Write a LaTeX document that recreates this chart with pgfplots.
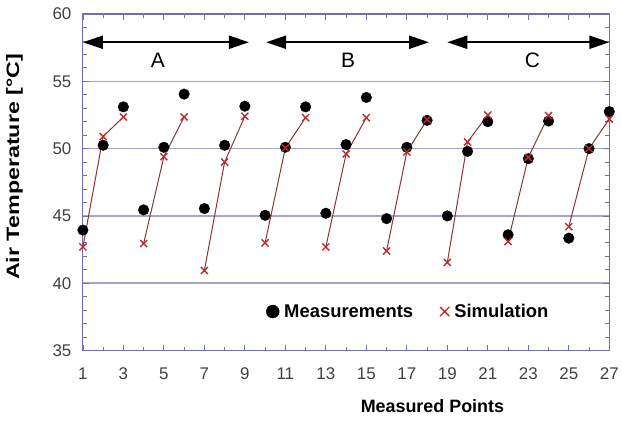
\documentclass[border=0pt]{standalone}
\usepackage{pgfplots}
\pgfplotsset{compat=1.18}
\usepackage{fontspec}
\setmainfont{Liberation Sans}
\usetikzlibrary{arrows.meta}

\definecolor{frameblue}{RGB}{112,112,176}
\definecolor{gridblue}{RGB}{166,166,196}
\definecolor{simline}{RGB}{140,52,52}
\definecolor{simred}{RGB}{185,45,45}

\begin{document}
\begin{tikzpicture}
\begin{axis}[name=ax,
  scale only axis, width=527bp, height=337bp,
  xmin=1, xmax=27, ymin=35, ymax=60,
  xtick={1,3,...,27}, minor x tick num=1,
  ytick={35,40,...,60}, minor y tick num=4,
  ymajorgrids, grid style={draw=gridblue, line width=1.6bp},
  axis line style={draw=frameblue, line width=1.2bp},
  every tick/.style={draw=frameblue, line width=0.8bp},
  major tick length=6bp, minor tick length=4bp,
  tick label style={font=\fontsize{17}{17}\selectfont, text=black!75},
  xticklabel style={yshift=-14bp},
  yticklabel style={xshift=-8bp},
  /pgf/number format/assume math mode=true,
  xlabel={Measured Points},
  ylabel={\scalebox{1.3}[1]{Air Temperature [°C]}},
  label style={font=\bfseries\fontsize{18}{18}\selectfont},
  every axis x label/.append style={at={([yshift=-13bp]ticklabel cs:0.664)}},
  every axis y label/.append style={at={([xshift=-23bp]ticklabel cs:0.546)}},
  clip=false, unbounded coords=jump,
  legend columns=2,
  legend style={draw=none, fill=none, at={(axis cs:9.9,37.9)}, anchor=west,
    font=\bfseries\fontsize{18.5}{18.5}\selectfont,
    /tikz/every odd column/.append style={column sep=3bp},
    /tikz/every even column/.append style={column sep=25bp}},
  legend image code/.code={\draw[mark repeat=2,mark phase=2,#1,mark size=6.5bp]
    plot coordinates {(0cm,0cm) (0.25cm,0cm) (0.5cm,0cm)};},
]
% simulation, joined within each group of three points
\addplot[simline, line width=1bp, forget plot] coordinates {
  (1,42.7) (2,50.9) (3,52.35) (3.5,nan)
  (4,42.95) (5,49.4) (6,52.35) (6.5,nan)
  (7,40.95) (8,49.0) (9,52.4) (9.5,nan)
  (10,43.0) (11,50.05) (12,52.3) (12.5,nan)
  (13,42.7) (14,49.6) (15,52.3) (15.5,nan)
  (16,42.4) (17,49.75) (18,52.15) (18.5,nan)
  (19,41.55) (20,50.5) (21,52.5) (21.5,nan)
  (22,43.1) (23,49.35) (24,52.45) (24.5,nan)
  (25,44.2) (26,50.0) (27,52.2)
};
\addplot[only marks, mark=*, black, mark size=5.3bp] coordinates {
  (1,43.95) (2,50.25) (3,53.1)
  (4,45.45) (5,50.1) (6,54.05)
  (7,45.55) (8,50.25) (9,53.15)
  (10,45.05) (11,50.1) (12,53.1)
  (13,45.2) (14,50.3) (15,53.8)
  (16,44.8) (17,50.1) (18,52.1)
  (19,45.0) (20,49.8) (21,52.0)
  (22,43.6) (23,49.25) (24,52.05)
  (25,43.35) (26,50.0) (27,52.75)
};
\addlegendentry{Measurements}
\addplot[only marks, mark=x, simred, mark size=5bp,
  mark options={line width=1.4bp}] coordinates {
  (1,42.7) (2,50.9) (3,52.35)
  (4,42.95) (5,49.4) (6,52.35)
  (7,40.95) (8,49.0) (9,52.4)
  (10,43.0) (11,50.05) (12,52.3)
  (13,42.7) (14,49.6) (15,52.3)
  (16,42.4) (17,49.75) (18,52.15)
  (19,41.55) (20,50.5) (21,52.5)
  (22,43.1) (23,49.35) (24,52.45)
  (25,44.2) (26,50.0) (27,52.2)
};
\addlegendentry{Simulation}
% period arrows and labels
\draw[{Triangle[length=20bp,width=13bp]}-{Triangle[length=20bp,width=13bp]}, line width=2.2bp]
  (axis cs:1,57.9) -- (axis cs:9.2,57.9);
\draw[{Triangle[length=20bp,width=13bp]}-{Triangle[length=20bp,width=13bp]}, line width=2.2bp]
  (axis cs:10.05,57.9) -- (axis cs:18.1,57.9);
\draw[{Triangle[length=20bp,width=13bp]}-{Triangle[length=20bp,width=13bp]}, line width=2.2bp]
  (axis cs:19,57.9) -- (axis cs:27,57.9);
\node[font=\fontsize{21}{21}\selectfont] at (axis cs:4.7,56.55) {A};
\node[font=\fontsize{21}{21}\selectfont] at (axis cs:14.1,56.55) {B};
\node[font=\fontsize{21}{21}\selectfont] at (axis cs:23.2,56.55) {C};
\end{axis}
\path[use as bounding box] ([shift={(-83bp,-70bp)}]ax.south west) rectangle ([shift={(12bp,14bp)}]ax.north east);
\end{tikzpicture}
\end{document}
